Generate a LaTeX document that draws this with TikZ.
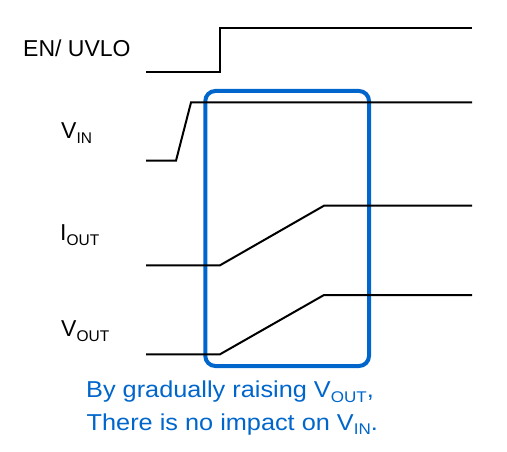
\documentclass[tikz,border=0pt]{standalone}
\usepackage{fontspec}
\setmainfont{Liberation Sans}
\definecolor{boxblue}{RGB}{0,102,204}
\newcommand{\lowtxt}[1]{\raisebox{-4.5pt}{\fontsize{15.5}{15.5}\selectfont #1}}
\newcommand{\widetxt}[1]{\scalebox{1.1}[1]{#1}}
\tikzset{
  wave/.style={line width=2pt, line join=miter},
  sig/.style={anchor=base west, inner sep=0pt, font=\fontsize{23}{27}\selectfont},
  note/.style={sig, text=boxblue}
}
\begin{document}
\begin{tikzpicture}[x=1pt,y=-1pt]
\useasboundingbox (0,0) rectangle (507,452);
% soft-start window
\draw[boxblue, line width=4pt, rounded corners=10pt] (205.3,91) rectangle (369,366);
% signal names
\node[sig] (en) at (23,56.7) {EN/ UVLO};
\node[sig] (vin) at (61,139) {V\lowtxt{IN}};
\node[sig] (iout) at (60,240.7) {I\lowtxt{OUT}};
\node[sig] (vout) at (61,336.7) {V\lowtxt{OUT}};
% waveforms
\draw[wave] (146,72) -- (220,72) -- (220,28) -- (472,28);
\draw[wave] (146,160.7) -- (176,160.7) -- (191,102.5) -- (472,102.5);
\draw[wave] (146,265.3) -- (220,265.3) -- (324,205.7) -- (472,205.7);
\draw[wave] (146,354.3) -- (220,354.3) -- (324,295) -- (472,295);
% note
\node[note] (line1) at (86,397.7) {\widetxt{By gradually raising V\lowtxt{OUT},}};
\node[note] (line2) at (86.5,430) {\widetxt{There is no impact on V\lowtxt{IN}.}};
\end{tikzpicture}
\end{document}
